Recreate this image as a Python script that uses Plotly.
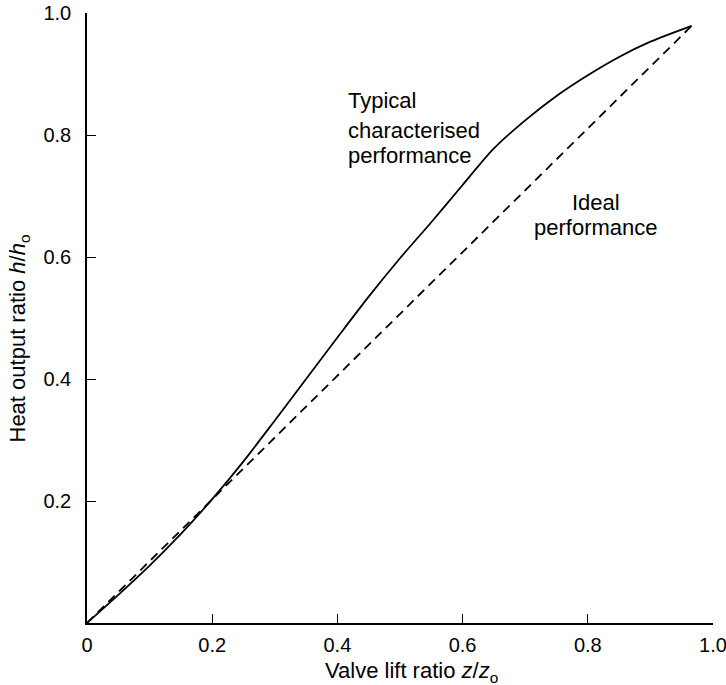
import plotly.graph_objects as go

# Data
typical_x = [0, 0.05, 0.10, 0.15, 0.20, 0.25, 0.30, 0.35, 0.40, 0.45,
             0.50, 0.55, 0.60, 0.65, 0.70, 0.75, 0.80, 0.85, 0.90, 0.966]
typical_y = [0, 0.046, 0.094, 0.146, 0.203, 0.265, 0.332, 0.400, 0.468, 0.535,
             0.598, 0.657, 0.718, 0.778, 0.824, 0.864, 0.898, 0.928, 0.953, 0.979]
ideal_x = [0, 0.966]
ideal_y = [0, 0.979]

x_tickvals = [0, 0.2, 0.4, 0.6, 0.8, 1.0]
x_ticktext = ["0", "0.2", "0.4", "0.6", "0.8", "1.0"]
y_tickvals = [0.2, 0.4, 0.6, 0.8, 1.0]
y_ticktext = ["0.2", "0.4", "0.6", "0.8", "1.0"]

FONT = "Liberation Sans, Arial, Helvetica, sans-serif"

fig = go.Figure()
fig.add_trace(go.Scatter(x=ideal_x, y=ideal_y, mode="lines",
                         line=dict(color="black", width=1.8, dash="9px,6px"),
                         showlegend=False, hoverinfo="skip"))
fig.add_trace(go.Scatter(x=typical_x, y=typical_y, mode="lines",
                         line=dict(color="black", width=1.8, shape="spline", smoothing=0.8),
                         showlegend=False, hoverinfo="skip"))

axis_common = dict(range=[0, 1], showgrid=False, zeroline=False, showline=True,
                   linecolor="black", linewidth=1.6, ticks="inside", ticklen=9,
                   tickwidth=1.4, tickcolor="black", automargin=False,
                   ticklabeloverflow="allow",
                   tickfont=dict(family=FONT, size=20, color="black"))
fig.update_xaxes(**axis_common, tickvals=x_tickvals, ticktext=x_ticktext,
                 ticklabelstandoff=3)
fig.update_yaxes(**axis_common, tickvals=y_tickvals, ticktext=y_ticktext,
                 ticklabelstandoff=10)

ann_font = dict(family=FONT, size=22, color="black")
annotations = [
    dict(text="Typical", x=0.414, y=0.857, xanchor="left", yanchor="middle"),
    dict(text="characterised", x=0.414, y=0.808, xanchor="left", yanchor="middle"),
    dict(text="performance", x=0.414, y=0.766, xanchor="left", yanchor="middle"),
    dict(text="Ideal", x=0.813, y=0.690, xanchor="center", yanchor="middle"),
    dict(text="performance", x=0.813, y=0.649, xanchor="center", yanchor="middle"),
]
for a in annotations:
    fig.add_annotation(xref="x", yref="y", showarrow=False, font=ann_font, **a)

fig.add_annotation(xref="paper", yref="paper", x=0.519, y=-0.080,
                   text="Valve lift ratio <i>z</i>/<i>z</i><sub>o</sub>",
                   showarrow=False, xanchor="center", yanchor="middle", font=ann_font)
fig.add_annotation(xref="paper", yref="paper", x=-0.109, y=0.466,
                   text="Heat output ratio <i>h</i>/<i>h</i><sub>o</sub>",
                   showarrow=False, xanchor="center", yanchor="middle", textangle=-90,
                   font=ann_font)

fig.update_layout(template="none", width=726, height=685,
                  margin=dict(l=87, r=13, t=13, b=62, autoexpand=False),
                  plot_bgcolor="white", paper_bgcolor="white",
                  font=dict(family=FONT, color="black"))

# remove the page's default body margin so the figure sits at the window's corner
fig.write_html("out.html", config={"displayModeBar": False},
               post_script="document.body.style.margin='0px';document.body.style.overflow='hidden';")
